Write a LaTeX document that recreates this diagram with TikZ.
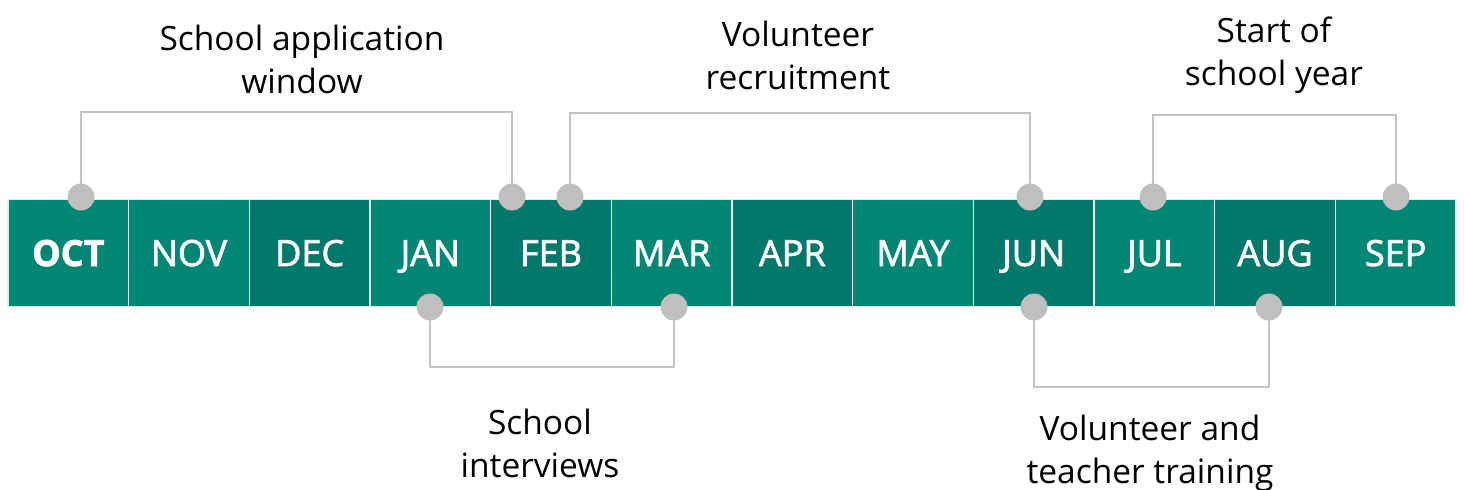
\documentclass[tikz,border=0pt]{standalone}
\usepackage{fontspec}
\setmainfont{Open Sans}
\newfontfamily\monthfont[FakeBold=2]{Open Sans}
\definecolor{tealmid}{HTML}{008774}
\definecolor{tealdark}{HTML}{00786A}
\definecolor{sepline}{HTML}{DDEFEC}
\definecolor{dotgray}{HTML}{BFBFBF}
\definecolor{linkgray}{HTML}{C4C4C4}
\begin{document}
\begin{tikzpicture}[x=1pt,y=-1pt,
  cell/.style={rectangle, minimum width=120.67pt, minimum height=107pt, inner sep=0pt,
    text height=26pt, text depth=0pt,
    draw=sepline, line width=1.5pt, text=white, font=\monthfont\fontsize{36}{40}\selectfont},
  mid/.style={cell, fill=tealmid},
  dark/.style={cell, fill=tealdark},
  dot/.style={circle, fill=dotgray, minimum size=27pt, inner sep=0pt},
  link/.style={draw=linkgray, line width=2.6pt},
  label/.style={align=center, text=black, font=\fontsize{33.5}{43}\selectfont}]
\useasboundingbox (0,0) rectangle (1465,490);
\clip (0,0) rectangle (1465,490);
% month bar
\foreach \name/\txt/\sty [count=\i] in {m1/\textbf{OCT}/mid, m2/NOV/mid, m3/DEC/dark, m4/JAN/mid,
    m5/FEB/dark, m6/MAR/mid, m7/APR/dark, m8/MAY/mid, m9/JUN/dark, m10/JUL/mid, m11/AUG/dark, m12/SEP/mid}
  \node[\sty] (\name) at ({8+120.67*(\i-0.5)},253) {\txt};
% anchor points of the brackets
\coordinate (t1) at (81,197);
\coordinate (t2) at (512,197);
\coordinate (t3) at (570,197);
\coordinate (t4) at (1030,197);
\coordinate (t5) at (1153,197);
\coordinate (t6) at (1396,197);
\coordinate (b1) at (430,307);
\coordinate (b2) at (674,307);
\coordinate (b3) at (1034,307);
\coordinate (b4) at (1269,307);
% brackets
\draw[link] (t1) -- (t1 |- 0,112) -| (t2);
\draw[link] (t3) -- (t3 |- 0,113) -| (t4);
\draw[link] (t5) -- (t5 |- 0,115) -| (t6);
\draw[link] (b1) -- (b1 |- 0,367) -| (b2);
\draw[link] (b3) -- (b3 |- 0,387) -| (b4);
% dots
\foreach \p in {t1,t2,t3,t4,t5,t6,b1,b2,b3,b4}
  \node[dot] (d\p) at (\p) {};
% labels
\node[label] (l1) at (302,59) {School application\\window};
\node[label] (l2) at (798,55) {Volunteer\\recruitment};
\node[label] (l3) at (1274,55) {Start of\\school year};
\node[label] (l4) at (540,443) {School\\interviews};
\node[label] (l5) at (1150,453) {Volunteer and\\teacher training};
\end{tikzpicture}
\end{document}
